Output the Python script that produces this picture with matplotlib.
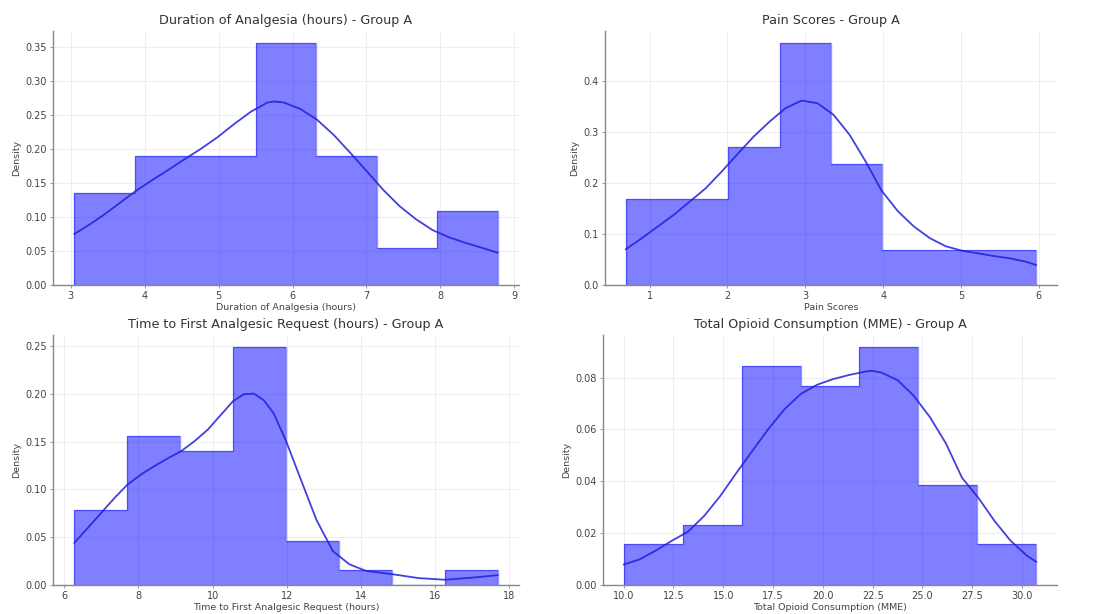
import matplotlib
matplotlib.use("Agg")
import matplotlib.pyplot as plt
from matplotlib.ticker import MultipleLocator

# ---------------- data ----------------
dur_edges = [3.045, 3.864, 4.683, 5.502, 6.321, 7.140, 7.959, 8.778]
dur_heights = [0.135, 0.190, 0.190, 0.355, 0.190, 0.055, 0.108]
dur_kde_x = [3.045, 3.246, 3.425, 3.648, 3.872, 4.095, 4.319, 4.542, 4.766, 4.989, 5.213,
             5.436, 5.660, 5.749, 5.883, 6.107, 6.330, 6.554, 6.777, 7.000, 7.224, 7.448,
             7.671, 7.895, 8.118, 8.342, 8.565, 8.778]
dur_kde_y = [0.0748, 0.0883, 0.1013, 0.1192, 0.1375, 0.1535, 0.1689, 0.1848, 0.2003, 0.2172, 0.2365,
             0.2543, 0.2678, 0.2693, 0.2678, 0.2582, 0.2427, 0.2206, 0.1945, 0.1675, 0.1400, 0.1158,
             0.0965, 0.0806, 0.0700, 0.0618, 0.0545, 0.0473]

pain_edges = [0.69, 1.35, 2.01, 2.67, 3.33, 3.99, 4.65, 5.31, 5.97]
pain_heights = [0.169, 0.169, 0.271, 0.474, 0.237, 0.0686, 0.0686, 0.0686]
pain_kde_x = [0.692, 0.897, 1.103, 1.308, 1.514, 1.720, 1.925, 2.131, 2.336, 2.542, 2.745, 2.953,
              3.156, 3.364, 3.570, 3.775, 3.980, 4.187, 4.392, 4.598, 4.803, 5.009, 5.215, 5.420,
              5.626, 5.831, 5.967]
pain_kde_y = [0.0699, 0.0915, 0.1144, 0.1373, 0.1634, 0.1895, 0.2222, 0.2569, 0.2908, 0.3203, 0.3464, 0.3614,
              0.3562, 0.3333, 0.2941, 0.2420, 0.1850, 0.1450, 0.1150, 0.0920, 0.0760, 0.0673, 0.0621, 0.0569,
              0.0523, 0.0458, 0.0392]

time_edges = [6.27, 7.70, 9.12, 10.55, 11.98, 13.41, 14.84, 16.26, 17.69]
time_heights = [0.078, 0.156, 0.140, 0.249, 0.046, 0.0155, 0.0, 0.0155]
time_kde_x = [6.267, 6.667, 7.022, 7.378, 7.707, 8.089, 8.444, 8.800, 9.156, 9.511, 9.867, 10.222,
              10.551, 10.844, 11.111, 11.378, 11.644, 11.982, 12.356, 12.800, 13.244, 13.689, 14.133,
              14.844, 15.556, 16.267, 16.978, 17.689]
time_kde_y = [0.0440, 0.0611, 0.0766, 0.0920, 0.1051, 0.1161, 0.1247, 0.1326, 0.1401, 0.1504, 0.1624, 0.1779,
              0.1923, 0.1995, 0.2002, 0.1933, 0.1796, 0.1504, 0.1126, 0.0680, 0.0354, 0.0216, 0.0148,
              0.0113, 0.0072, 0.0055, 0.0076, 0.0103]

opi_edges = [10.0, 12.96, 15.92, 18.88, 21.84, 24.80, 27.76, 30.72]
opi_heights = [0.0159, 0.0231, 0.0844, 0.0768, 0.0918, 0.0385, 0.0159]
opi_kde_x = [10.00, 10.81, 11.62, 12.43, 13.24, 14.05, 14.85, 15.66, 16.47, 17.28, 18.09, 18.90, 19.71,
             20.52, 21.33, 22.14, 22.46, 22.94, 23.75, 24.56, 25.37, 26.18, 26.99, 27.80, 28.61, 29.42,
             30.23, 30.72]
opi_kde_y = [0.0079, 0.0099, 0.0133, 0.0171, 0.0206, 0.0267, 0.0343, 0.0432, 0.0518, 0.0603, 0.0679, 0.0737, 0.0772,
             0.0794, 0.0810, 0.0823, 0.0826, 0.0819, 0.0790, 0.0730, 0.0648, 0.0546, 0.0413, 0.0337, 0.0248, 0.0171,
             0.0114, 0.0089]

titles = ["Duration of Analgesia (hours) - Group A",
          "Pain Scores - Group A",
          "Time to First Analgesic Request (hours) - Group A",
          "Total Opioid Consumption (MME) - Group A"]
xlabels = ["Duration of Analgesia (hours)", "Pain Scores",
           "Time to First Analgesic Request (hours)", "Total Opioid Consumption (MME)"]

panels = [
    (dur_edges, dur_heights, dur_kde_x, dur_kde_y),
    (pain_edges, pain_heights, pain_kde_x, pain_kde_y),
    (time_edges, time_heights, time_kde_x, time_kde_y),
    (opi_edges, opi_heights, opi_kde_x, opi_kde_y),
]

# ---------------- plotting ----------------
plt.rcParams['font.family'] = ['DejaVu Sans']
W, H = 1101, 614
fig = plt.figure(figsize=(W / 100, H / 100), dpi=100)

# axes boxes in pixels: (left, right, top, bottom)
boxes = [(53, 519, 31, 285), (605, 1057, 31, 285),
         (53, 519, 335, 585), (603, 1057, 335, 585)]
axes = []
for (l, r, t, b) in boxes:
    axes.append(fig.add_axes([l / W, 1 - b / H, (r - l) / W, (b - t) / H]))

for i, (ax, (edges, heights, kx, ky), title, xl) in enumerate(zip(axes, panels, titles, xlabels)):
    ax.stairs(heights, edges, fill=True, facecolor=(0, 0, 1, 0.5), edgecolor='none')
    ax.stairs(heights, edges, fill=False, color=(0, 0, 1, 0.4), linewidth=1.0)
    ax.plot(kx, ky, color=(0.12, 0.12, 0.85), linewidth=1.3, alpha=0.85,
            solid_joinstyle='round', solid_capstyle='round')
    ax.margins(x=0.05, y=0.05)
    ax.set_ylim(bottom=0)
    if i == 3:
        ax.xaxis.set_major_locator(MultipleLocator(2.5))
    ax.set_title(title, fontsize=9.2, color='#333333', pad=5)
    ax.set_xlabel(xl, fontsize=6.8, color='#444444', labelpad=1)
    ax.set_ylabel("Density", fontsize=6.8, color='#444444', labelpad=3)
    ax.grid(True, color='#eeeeee', linewidth=0.8)
    ax.set_axisbelow(True)
    for s in ['top', 'right']:
        ax.spines[s].set_visible(False)
    for s in ['left', 'bottom']:
        ax.spines[s].set_color('#888888')
        ax.spines[s].set_linewidth(1.0)
    ax.tick_params(labelsize=7, colors='#444444', length=2.5, width=0.6, color='#888888', pad=2)

fig.savefig("out.png", dpi=100)
